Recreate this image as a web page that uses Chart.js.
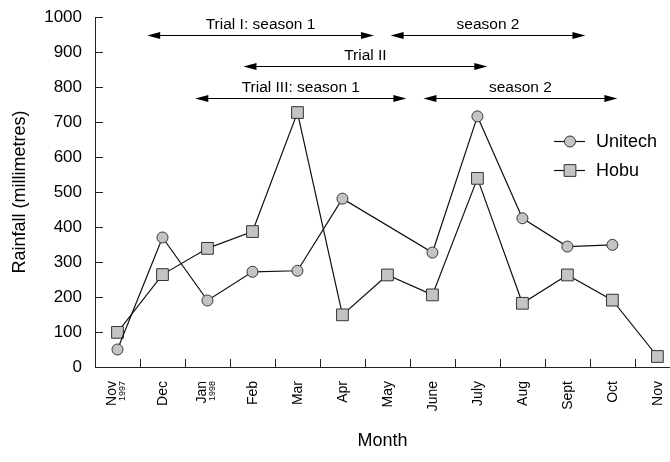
<!DOCTYPE html>
<html>
<head>
<meta charset="utf-8">
<script src="https://cdn.jsdelivr.net/npm/chart.js@4.4.1/dist/chart.umd.min.js"></script>
<style>
  html, body { margin: 0; padding: 0; background: #fff; }
</style>
</head>
<body>
<canvas id="graficoLluvia" width="670" height="462"></canvas>
<script>
// Datos
const meses = ["Nov", "Dec", "Jan", "Feb", "Mar", "Apr", "May", "June", "July", "Aug", "Sept", "Oct", "Nov"];
const anios = ["1997", "", "1998", "", "", "", "", "", "", "", "", "", ""];
const unitech = [50, 370, 190, 272, 275, 481, null, 327, 716, 425, 344, 349, null];
const hobu = [99, 264, 339, 387, 727, 149, 263, 206, 539, 182, 263, 191, 30];
const marcasY = [0, 100, 200, 300, 400, 500, 600, 700, 800, 900, 1000];

// Periodos de los ensayos (en meses desde Nov 1997) y altura de la flecha
const periodosTexto = ["Trial I: season 1", "season 2", "Trial II", "Trial III: season 1", "season 2"];
const periodosDesde = [0.66, 6.07, 2.8, 1.73, 6.8];
const periodosHasta = [5.70, 10.4, 8.22, 6.42, 11.11];
const periodosNivel = [950, 950, 860, 770, 770];

const fuente = '"Liberation Sans", Arial, Helvetica, sans-serif';

const extras = {
  id: 'extras',
  afterDraw(chart) {
    const ctx = chart.ctx;
    const ejeX = chart.scales.x;
    const ejeY = chart.scales.y;
    const area = chart.chartArea;
    ctx.save();
    ctx.strokeStyle = '#222';
    ctx.lineWidth = 1;

    // marcas del eje y hacia adentro
    marcasY.forEach((v) => {
      const py = Math.round(ejeY.getPixelForValue(v)) + 0.5;
      ctx.beginPath();
      ctx.moveTo(area.left, py);
      ctx.lineTo(area.left + 8, py);
      ctx.stroke();
    });

    // marcas del eje x entre los meses
    for (let i = 0; i < meses.length - 1; i++) {
      const px = Math.round(ejeX.getPixelForValue(i + 0.5)) + 0.5;
      ctx.beginPath();
      ctx.moveTo(px, area.bottom);
      ctx.lineTo(px, area.bottom - 8);
      ctx.stroke();
    }

    // etiquetas de los meses, giradas
    ctx.fillStyle = '#000';
    meses.forEach((m, i) => {
      const px = ejeX.getPixelForValue(i);
      const conAnio = anios[i] !== "";
      ctx.save();
      ctx.translate(conAnio ? px - 1 : px + 5, area.bottom + 14);
      ctx.rotate(-Math.PI / 2);
      ctx.font = '14px ' + fuente;
      ctx.textAlign = 'right';
      ctx.textBaseline = 'alphabetic';
      ctx.fillText(m, 0, 0);
      ctx.restore();
      if (conAnio) {
        ctx.save();
        ctx.translate(px + 8, area.bottom + 14);
        ctx.rotate(-Math.PI / 2);
        ctx.font = '9px ' + fuente;
        ctx.textAlign = 'right';
        ctx.textBaseline = 'alphabetic';
        ctx.fillText(anios[i], 0, 0);
        ctx.restore();
      }
    });

    // flechas de los ensayos
    ctx.fillStyle = '#000';
    ctx.strokeStyle = '#000';
    ctx.font = '15.5px ' + fuente;
    ctx.textAlign = 'center';
    ctx.textBaseline = 'alphabetic';
    periodosTexto.forEach((texto, i) => {
      const x1 = ejeX.getPixelForValue(periodosDesde[i]);
      const x2 = ejeX.getPixelForValue(periodosHasta[i]);
      const py = Math.round(ejeY.getPixelForValue(periodosNivel[i])) + 0.5;
      ctx.beginPath();
      ctx.moveTo(x1 + 10, py);
      ctx.lineTo(x2 - 10, py);
      ctx.stroke();
      ctx.beginPath();
      ctx.moveTo(x1, py);
      ctx.lineTo(x1 + 13, py - 3.5);
      ctx.lineTo(x1 + 13, py + 3.5);
      ctx.closePath();
      ctx.fill();
      ctx.beginPath();
      ctx.moveTo(x2, py);
      ctx.lineTo(x2 - 13, py - 3.5);
      ctx.lineTo(x2 - 13, py + 3.5);
      ctx.closePath();
      ctx.fill();
      ctx.fillText(texto, (x1 + x2) / 2, py - 7);
    });

    // leyenda
    const lx = 554;
    const filas = [
      { texto: 'Unitech', estilo: 'circle', radio: 5.5, y: 141.5 },
      { texto: 'Hobu', estilo: 'rect', radio: 8.3, y: 170.5 }
    ];
    filas.forEach((f) => {
      ctx.strokeStyle = '#111';
      ctx.lineWidth = 1.2;
      ctx.beginPath();
      ctx.moveTo(lx, f.y);
      ctx.lineTo(lx + 31, f.y);
      ctx.stroke();
      ctx.fillStyle = '#c4c4c4';
      ctx.strokeStyle = '#333';
      ctx.lineWidth = 1;
      Chart.helpers.drawPoint(ctx, { pointStyle: f.estilo, radius: f.radio, borderWidth: 1 }, lx + 16, f.y);
      ctx.fillStyle = '#000';
      ctx.font = '18px ' + fuente;
      ctx.textAlign = 'left';
      ctx.textBaseline = 'middle';
      ctx.fillText(f.texto, lx + 42, f.y + 1);
    });
    ctx.restore();
  }
};

const datos = {
  datasets: [
    {
      label: 'Unitech',
      data: unitech.map((v, i) => ({ x: i, y: v })),
      spanGaps: true,
      clip: false,
      borderColor: '#111',
      borderWidth: 1.2,
      pointStyle: 'circle',
      pointRadius: 5.5,
      pointBackgroundColor: '#c4c4c4',
      pointBorderColor: '#333',
      pointBorderWidth: 1,
      tension: 0
    },
    {
      label: 'Hobu',
      data: hobu.map((v, i) => ({ x: i, y: v })),
      clip: false,
      borderColor: '#111',
      borderWidth: 1.2,
      pointStyle: 'rect',
      pointRadius: 8.3,
      pointBackgroundColor: '#c4c4c4',
      pointBorderColor: '#333',
      pointBorderWidth: 1,
      tension: 0
    }
  ]
};

const config = {
  type: 'line',
  data: datos,
  options: {
    responsive: false,
    animation: false,
    layout: { autoPadding: false, padding: { top: 17, right: 0, left: 0, bottom: 0 } },
    plugins: {
      legend: { display: false },
      tooltip: { enabled: false }
    },
    scales: {
      x: {
        type: 'linear',
        min: -0.5,
        max: 12.28,
        afterFit(scale) { scale.height = 95; },
        grid: { display: true, drawOnChartArea: false, drawTicks: false },
        border: { display: true, color: '#222', width: 1 },
        ticks: { display: false },
        title: {
          display: true,
          text: 'Month',
          color: '#000',
          font: { family: fuente, size: 18 },
          padding: { top: 0, bottom: 10 }
        }
      },
      y: {
        min: 0,
        max: 1000,
        afterFit(scale) {
          scale.width = 95;
          scale.paddingTop = 0;
          scale.paddingBottom = 0;
        },
        afterBuildTicks(scale) { scale.ticks = marcasY.map((v) => ({ value: v })); },
        grid: { display: true, drawOnChartArea: false, drawTicks: false },
        border: { display: true, color: '#222', width: 1 },
        ticks: {
          color: '#000',
          padding: 13,
          font: { family: fuente, size: 17 },
          callback: (v) => String(v)
        },
        title: {
          display: true,
          text: 'Rainfall (millimetres)',
          color: '#000',
          font: { family: fuente, size: 18 },
          padding: { top: 9, bottom: 0 }
        }
      }
    }
  },
  plugins: [extras]
};

const ctx = document.getElementById('graficoLluvia').getContext('2d');
new Chart(ctx, config);
</script>
</body>
</html>
